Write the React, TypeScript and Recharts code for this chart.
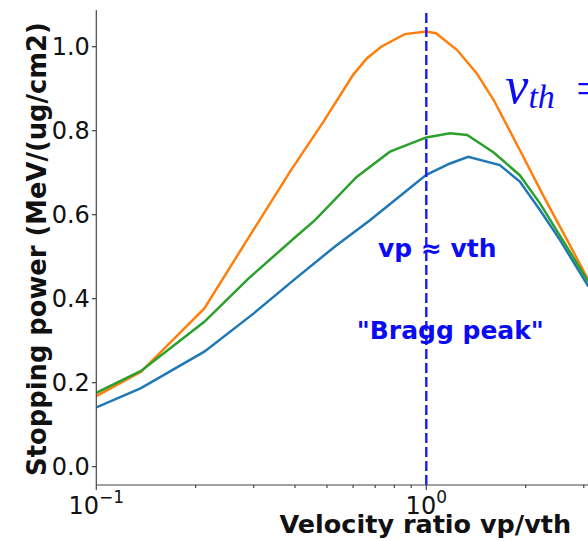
import React from 'react';
import { LineChart, Line, XAxis, YAxis, ReferenceLine, Label } from 'recharts';

// ---- data ----
const blueX = [0.1, 0.1366, 0.2125, 0.3, 0.403, 0.53, 0.675, 1.0, 1.18, 1.34, 1.67, 1.92, 2.21, 2.54, 3.1];
const blueY = [0.141, 0.187, 0.274, 0.365, 0.449, 0.525, 0.587, 0.695, 0.722, 0.738, 0.718, 0.679, 0.611, 0.54, 0.429];

const orangeX = [0.1, 0.1366, 0.2125, 0.3, 0.386, 0.4875, 0.6, 0.66, 0.73, 0.86, 1.0, 1.07, 1.24, 1.42, 1.6, 1.92, 2.27, 2.67, 3.1];
const orangeY = [0.168, 0.226, 0.377, 0.565, 0.702, 0.821, 0.933, 0.972, 1.0, 1.03, 1.036, 1.032, 0.992, 0.937, 0.873, 0.754, 0.643, 0.54, 0.444];

const greenX = [0.1, 0.1366, 0.2125, 0.29, 0.403, 0.46, 0.615, 0.776, 1.0, 1.18, 1.33, 1.6, 1.92, 2.21, 3.1];
const greenY = [0.176, 0.228, 0.345, 0.449, 0.548, 0.587, 0.69, 0.75, 0.784, 0.794, 0.79, 0.748, 0.694, 0.627, 0.44];

const xTicks = [0.1, 0.2, 0.3, 0.4, 0.5, 0.6, 0.7, 0.8, 0.9, 1, 2, 3];
const yTicks = [0, 0.2, 0.4, 0.6, 0.8, 1.0];
const xDomain = [0.1, 3.09];
const yDomain = [-0.0436, 1.0874];

const toPoints = (xs: number[], ys: number[]) => xs.map((x, i) => ({ x, y: ys[i] }));
const blueData = toPoints(blueX, blueY);
const orangeData = toPoints(orangeX, orangeY);
const greenData = toPoints(greenX, greenY);

const FONT = 'DejaVu Sans';
const SPINE = '#444';
const ANNO = '#0c0cf4';

const XTick = (props: any) => {
  const { x, y, payload } = props;
  const v = payload.value;
  const lg = Math.log10(v);
  const major = Math.abs(lg - Math.round(lg)) < 1e-6;
  const exp = Math.round(lg);
  return (
    <g>
      <line x1={x} x2={x} y1={y} y2={y + (major ? 5 : 3)} stroke={SPINE} strokeWidth={1.2} />
      {major && (
        <text x={x} y={y + 29} textAnchor="middle" fontFamily={FONT} fontSize={24} fill="#111">
          10
          <tspan dy={-11} fontSize={17}>{exp < 0 ? '\u2212' + Math.abs(exp) : String(exp)}</tspan>
        </text>
      )}
    </g>
  );
};

const YTick = (props: any) => {
  const { x, y, payload } = props;
  return (
    <g>
      <line x1={x - 4.5} x2={x} y1={y} y2={y} stroke={SPINE} strokeWidth={1.2} />
      <text x={x - 6.5} y={y} dy="0.36em" textAnchor="end" fontFamily={FONT} fontSize={24} fill="#111">
        {Number(payload.value).toFixed(1)}
      </text>
    </g>
  );
};

const Annotations = (props: any) => {
  const vb = props.viewBox || { x: 426.3, y: 10 };
  const cx = vb.x;
  return (
    <g>
      <text x={cx + 11} y={257} textAnchor="middle" fontFamily={FONT} fontWeight="bold" fontSize={25} fill={ANNO}>
        vp ≈ vth
      </text>
      <text x={cx + 24} y={339} textAnchor="middle" fontFamily={FONT} fontWeight="bold" fontSize={25} fill={ANNO}>
        "Bragg peak"
      </text>
      <text x={cx + 79} y={103} fontFamily="Liberation Serif" fontStyle="italic" fontSize={52} fill={ANNO}>
        v
        <tspan dy={5} fontSize={34}>th</tspan>
        <tspan x={cx + 150} dy={-5} fontStyle="normal" fontSize={44}>=</tspan>
      </text>
    </g>
  );
};

const XLabel = (props: any) => {
  const vb = props.viewBox || { x: 96.3, y: 485 };
  return (
    <text x={vb.x + 329} y={vb.y + 48} textAnchor="middle" fontFamily={FONT} fontWeight="bold" fontSize={25.5} fill="#111">
      Velocity ratio vp/vth
    </text>
  );
};

const YLabel = () => (
  <text
    x={46}
    y={249}
    transform="rotate(-90 46 249)"
    textAnchor="middle"
    fontFamily={FONT}
    fontWeight="bold"
    fontSize={25.8}
    fill="#111"
  >
    Stopping power (MeV/(ug/cm2)
  </text>
);

export default function App() {
  return (
    <div style={{ position: 'absolute', left: 0, top: 0, width: 588, height: 541, background: '#fff', overflow: 'hidden' }}>
      <LineChart width={588} height={541} margin={{ top: 10, right: 0, bottom: 0, left: 0 }}>
        <XAxis
          xAxisId="top"
          orientation="top"
          type="number"
          scale="log"
          domain={xDomain}
          allowDataOverflow
          height={0}
          tick={false}
          tickLine={false}
          axisLine={{ stroke: SPINE, strokeWidth: 1.2 }}
        />
        <XAxis
          dataKey="x"
          type="number"
          scale="log"
          domain={xDomain}
          allowDataOverflow
          ticks={xTicks}
          interval={0}
          tick={<XTick />}
          tickLine={false}
          tickSize={0}
          tickMargin={0}
          height={56}
          axisLine={{ stroke: SPINE, strokeWidth: 1.2 }}
        >
          <Label content={<XLabel />} />
        </XAxis>
        <YAxis
          type="number"
          domain={yDomain}
          allowDataOverflow
          ticks={yTicks}
          interval={0}
          tick={<YTick />}
          tickLine={false}
          tickSize={0}
          tickMargin={0}
          width={96.3}
          axisLine={{ stroke: SPINE, strokeWidth: 1.2 }}
        >
          <Label content={<YLabel />} />
        </YAxis>
        <Line data={blueData} dataKey="y" type="linear" stroke="#1f77b4" strokeWidth={2.5} dot={false} isAnimationActive={false} />
        <Line data={orangeData} dataKey="y" type="linear" stroke="#ff7f0e" strokeWidth={2.5} dot={false} isAnimationActive={false} />
        <Line data={greenData} dataKey="y" type="linear" stroke="#2ca02c" strokeWidth={2.5} dot={false} isAnimationActive={false} />
        <ReferenceLine x={1} stroke="#1a1aff" strokeWidth={2.4} strokeDasharray="10 4" label={<Annotations />} />
      </LineChart>
    </div>
  );
}
